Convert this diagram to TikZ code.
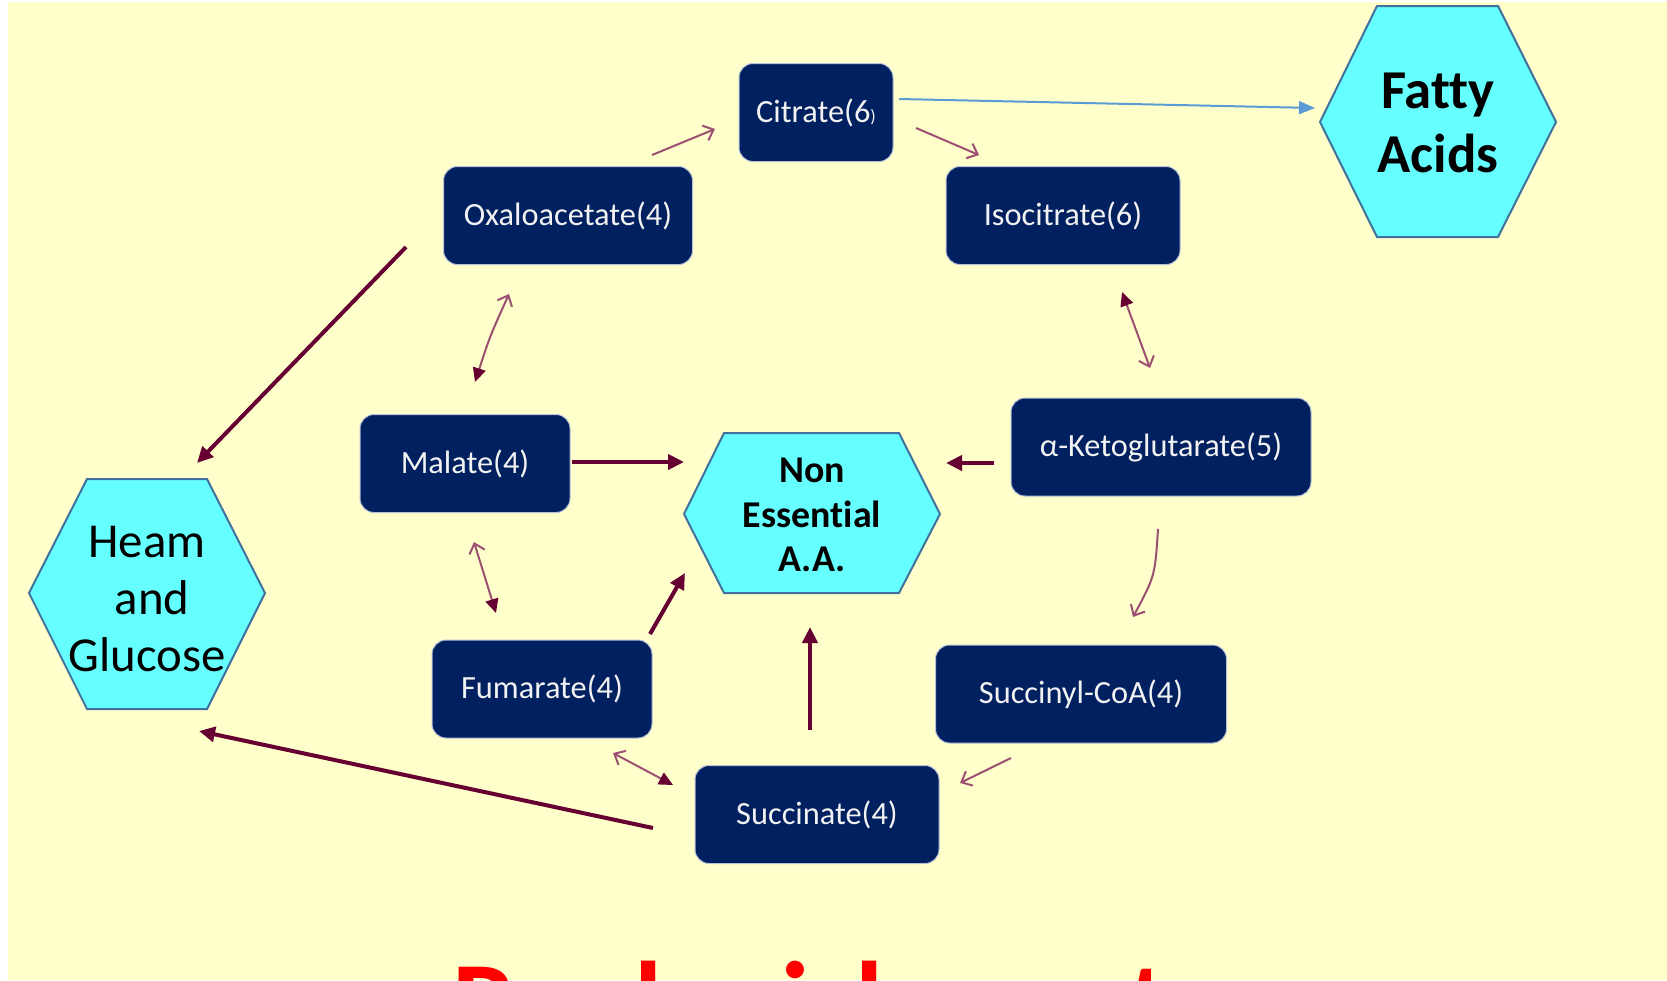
\documentclass[tikz,border=0pt]{standalone}
\usepackage{fontspec}
\setmainfont{Carlito}[Ligatures=NoCommon]
\usetikzlibrary{arrows.meta}
\definecolor{bgyellow}{HTML}{FFFFCC}
\definecolor{navybox}{HTML}{002060}
\definecolor{boxedge}{HTML}{B8C0D8}
\definecolor{boxtext}{HTML}{F2F2F2}
\definecolor{hexcyan}{HTML}{66FFFF}
\definecolor{hexedge}{HTML}{41719C}
\definecolor{maroonA}{HTML}{660033}
\definecolor{thinc}{HTML}{9B5072}
\definecolor{blueA}{HTML}{5B9BD5}
\definecolor{redA}{HTML}{FF0000}
\begin{document}
\begin{tikzpicture}[x=1bp,y=-1bp,
  box/.style={rounded corners=14bp, fill=navybox, draw=boxedge, line width=1bp,
    text=boxtext, font=\fontsize{32.5}{38}\selectfont, minimum height=98bp, inner sep=0pt},
  hexa/.style={fill=hexcyan, draw=hexedge, line width=2bp, line join=miter},
  hextext/.style={align=center, inner sep=0pt, text=black},
  thick/.style={draw=maroonA, line width=4bp, -{Triangle[length=16bp,width=15bp]}},
  thinarrow/.style={draw=thinc, line width=2bp, -{Straight Barb[length=9bp,width=16bp]}},
  dbl/.style={draw=thinc, line width=2bp,
    {Straight Barb[length=9bp,width=16bp]}-{Triangle[length=14bp,width=13bp,color=maroonA]}},
  bluearrow/.style={draw=blueA, line width=2bp, -{Triangle[length=16bp,width=13bp]}}
]
\useasboundingbox (0,0) rectangle (1667,980);
\clip (0,0) rectangle (1667,980);
\fill[white] (0,0) rectangle (1667,980);
\fill[bgyellow] (8,2) rectangle (1667,980);

% boxes
\node[box, minimum width=154bp] (cit) at (816,112.5) {Citrate(6{\fontsize{18}{20}\selectfont)}};
\node[box, minimum width=249bp] (oxa) at (568,215.5) {Oxaloacetate(4)};
\node[box, minimum width=234bp] (iso) at (1063,215.5) {Isocitrate(6)};
\node[box, minimum width=210bp] (mal) at (465,463.5) {Malate(4)};
\node[box, minimum width=300bp] (akg) at (1161,447) {α-Ketoglutarate(5)};
\node[box, minimum width=220bp] (fum) at (542,689) {Fumarate(4)};
\node[box, minimum width=291bp] (sca) at (1081,694) {Succinyl-CoA(4)};
\node[box, minimum width=244bp] (suc) at (817,814.5) {Succinate(4)};

% hexagons
\draw[hexa] (1377,6) -- (1498,6) -- (1556,122) -- (1498,237) -- (1377,237) -- (1320,122) -- cycle;
\node[hextext, font=\bfseries\fontsize{55}{64}\selectfont] (fat) at (1438,123) {Fatty\\Acids};
\draw[hexa] (724,433) -- (899,433) -- (940,514) -- (899,593) -- (724,593) -- (684,514) -- cycle;
\node[hextext, font=\bfseries\fontsize{38}{44.5}\selectfont] (nea) at (812,515) {Non\\Essential\\A.A.};
\draw[hexa] (87,479) -- (207,479) -- (265,593) -- (207,709) -- (87,709) -- (29,593) -- cycle;
\node[hextext, font=\fontsize{49}{57.5}\selectfont] (hg) at (147,599) {Heam\\\hspace*{10bp}and\\Glucose};

% arrow end points
\coordinate (oxcA) at (652,155);  \coordinate (oxcB) at (715,129);
\coordinate (ciiA) at (916,128);  \coordinate (ciiB) at (979,155);
\coordinate (ikA) at (1150,368);  \coordinate (ikB) at (1122,292);
\coordinate (omA) at (509,294);   \coordinate (omB) at (475,382);
\coordinate (mfA) at (474,542);   \coordinate (mfB) at (496,613);
\coordinate (fsA) at (613,753);   \coordinate (fsB) at (673,785);
\coordinate (ksA) at (1158,529);  \coordinate (ksB) at (1133,617);
\coordinate (ssA) at (1011,758);  \coordinate (ssB) at (960,783);
\coordinate (ohA) at (406,247);   \coordinate (ohB) at (197,463);
\coordinate (mnA) at (572,462);   \coordinate (mnB) at (684,462);
\coordinate (knA) at (994,463);   \coordinate (knB) at (946,463);
\coordinate (fnA) at (650,634);   \coordinate (fnB) at (685,573);
\coordinate (snA) at (810,730);   \coordinate (snB) at (810,627);
\coordinate (shA) at (653,828);   \coordinate (shB) at (199,731);
\coordinate (cfA) at (899,99);    \coordinate (cfB) at (1315,108);

% cycle arrows
\draw[thinarrow] (oxcA) -- (oxcB);
\draw[thinarrow] (ciiA) -- (ciiB);
\draw[dbl] (ikA) -- (ikB);
\draw[dbl] (omA) .. controls (490,336) .. (omB);
\draw[dbl] (mfA) -- (mfB);
\draw[dbl] (fsA) -- (fsB);
\draw[thinarrow] (ksA) .. controls (1155,576) .. (ksB);
\draw[thinarrow] (ssA) -- (ssB);

% thick arrows
\draw[thick] (ohA) -- (ohB);
\draw[thick] (mnA) -- (mnB);
\draw[thick] (knA) -- (knB);
\draw[thick] (fnA) -- (fnB);
\draw[thick] (snA) -- (snB);
\draw[thick] (shA) -- (shB);

% blue arrow
\draw[bluearrow] (cfA) -- (cfB);

% title (cut off by the lower edge, as in the reference)
\node[anchor=base west, inner sep=0pt, text=redA, font=\bfseries\fontsize{115}{120}\selectfont] (title) at (452,1041) {Replenishment};
\end{tikzpicture}
\end{document}
